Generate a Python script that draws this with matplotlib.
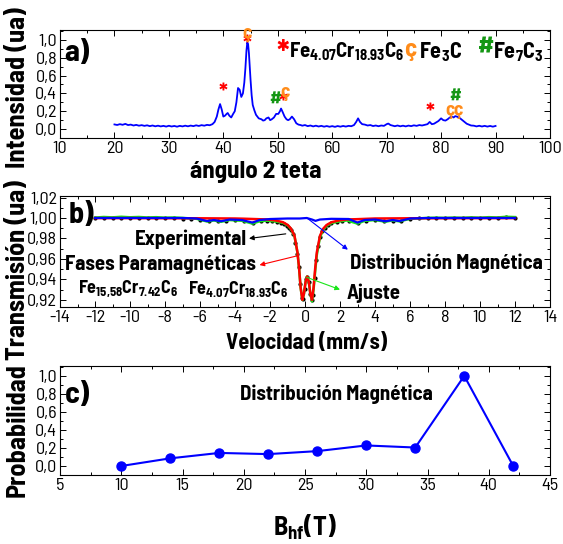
import matplotlib
matplotlib.use('Agg')
import matplotlib.pyplot as plt
from matplotlib import font_manager
from matplotlib.ticker import MultipleLocator, FuncFormatter

# ---------------- data ----------------
# a) XRD pattern
xrd_angle = [20.0, 20.5, 21.0, 21.5, 22.0, 22.5, 23.0, 23.5, 24.0, 24.5, 25.0, 25.5, 26.0, 26.5,
             27.0, 27.5, 28.0, 28.5, 29.0, 29.5, 30.0, 30.5, 31.0, 31.5, 32.0, 32.5, 33.0, 33.5,
             34.0, 34.5, 35.0, 35.5, 36.0, 36.5, 37.0, 37.5, 38.0,
             38.4, 38.8, 39.1, 39.4, 39.7, 40.0, 40.3, 40.6, 40.8, 41.1, 41.45, 41.8, 42.1, 42.4,
             42.7, 43.0, 43.3, 43.6, 43.85, 44.05, 44.25, 44.4, 44.55, 44.7, 44.85, 45.0, 45.2,
             45.4, 45.7, 46.0, 46.5, 47.0, 47.3, 47.6, 47.9, 48.3, 48.6, 48.9, 49.3, 49.7, 50.1,
             50.4, 50.6, 50.9, 51.25, 51.6, 51.9, 52.2, 52.6, 53.0, 53.4, 53.8, 54.2,
             54.5, 55.0, 55.5, 56.0, 56.5, 57.0, 57.5, 58.0, 58.5, 59.0, 59.5, 60.0, 60.5, 61.0,
             61.5, 62.0, 62.5, 63.0, 63.5,
             64.0, 64.4, 64.75, 65.1, 65.5, 66.0, 66.5, 67.0, 67.5, 68.0, 68.5, 69.0, 69.5, 70.0,
             70.3, 70.7, 71.0, 71.5, 72.0, 72.5, 73.0, 73.5, 74.0, 74.5, 75.0, 75.5, 76.0, 76.5,
             77.0, 77.5, 77.9, 78.3, 78.7, 79.1, 79.5, 80.0, 80.4, 80.8, 81.2, 81.6, 82.0, 82.3,
             82.6, 82.9, 83.2, 83.5, 83.9, 84.3, 84.7, 85.1, 85.5, 86.0, 86.5, 87.0, 87.5, 88.0,
             88.5, 89.0, 89.5, 90.0]
xrd_int = [0.052, 0.046, 0.055, 0.048, 0.058, 0.045, 0.050, 0.040, 0.047, 0.038, 0.044, 0.036, 0.042, 0.033,
           0.040, 0.031, 0.038, 0.030, 0.036, 0.028, 0.037, 0.029, 0.035, 0.027, 0.036, 0.030, 0.038, 0.031,
           0.039, 0.033, 0.042, 0.035, 0.044, 0.038, 0.047, 0.043, 0.055,
           0.080, 0.14, 0.22, 0.28, 0.22, 0.14, 0.15, 0.17, 0.18, 0.15, 0.13, 0.17, 0.20, 0.30,
           0.46, 0.44, 0.36, 0.40, 0.52, 0.68, 0.88, 0.97, 0.95, 0.85, 0.70, 0.55, 0.38,
           0.27, 0.21, 0.16, 0.12, 0.11, 0.095, 0.10, 0.12, 0.13, 0.10, 0.11, 0.13, 0.17, 0.17,
           0.20, 0.23, 0.19, 0.14, 0.11, 0.10, 0.11, 0.14, 0.11, 0.065, 0.05, 0.045,
           0.038, 0.045, 0.033, 0.040, 0.030, 0.038, 0.029, 0.036, 0.027, 0.034, 0.026, 0.033, 0.025, 0.034,
           0.027, 0.035, 0.028, 0.036, 0.032,
           0.045, 0.08, 0.12, 0.08, 0.055, 0.050, 0.040, 0.045, 0.034, 0.040, 0.032, 0.040, 0.036, 0.055,
           0.062, 0.045, 0.040, 0.032, 0.040, 0.031, 0.038, 0.030, 0.039, 0.033, 0.042, 0.036, 0.045, 0.040,
           0.048, 0.055, 0.080, 0.055, 0.060, 0.075, 0.090, 0.12, 0.10, 0.095, 0.11, 0.13, 0.14, 0.13,
           0.145, 0.14, 0.13, 0.12, 0.10, 0.08, 0.06, 0.05, 0.040, 0.038, 0.030, 0.037, 0.029, 0.036,
           0.028, 0.035, 0.027, 0.035]

# phase markers on the XRD pattern: (angle, height)
star_marks = [(39.9, 0.40), (44.4, 0.94), (50.9, 0.29), (78.0, 0.17)]
cedilla_marks = [(44.4, 1.07), (51.4, 0.41), (81.6, 0.21), (83.2, 0.21)]
hash_marks = [(49.6, 0.32), (82.6, 0.36)]

# b) Mossbauer spectrum
vel_exp = [-12.0, -11.5, -11.0, -10.5, -10.0, -9.5, -9.0, -8.5, -8.0, -7.5, -7.0, -6.5, -6.0, -5.5,
           -5.0, -4.5, -4.0, -3.5, -3.0, -2.5, -2.2, -1.9, -1.6, -1.4, -1.2, -1.05, -0.9, -0.78,
           -0.66, -0.55, -0.45, -0.36, -0.27, -0.18, -0.1, -0.02, 0.06, 0.14, 0.22, 0.3, 0.38,
           0.46, 0.55, 0.64, 0.74, 0.85, 0.98, 1.12, 1.3, 1.5, 1.8, 2.1, 2.5, 3.0, 3.5, 4.0, 4.5,
           5.0, 5.5, 6.0, 6.5, 7.0, 7.5, 8.0, 8.5, 9.0, 9.5, 10.0, 10.5, 11.0, 11.5, 12.0]
trans_exp = [0.9998, 1.0003, 0.9999, 1.0004, 0.9998, 1.0002, 0.9997, 1.0001, 0.9996, 1.0000, 0.9995,
             0.9992, 0.9985, 0.9968, 0.9972, 0.9975, 0.9978, 0.9970, 0.9948, 0.9970, 0.9972, 0.9966,
             0.9962, 0.9953, 0.9940, 0.9925, 0.9905, 0.9885, 0.9840, 0.9760, 0.9650, 0.9520, 0.9350,
             0.9220, 0.9210, 0.9310, 0.9405, 0.9420, 0.9370, 0.9260, 0.9195, 0.9250, 0.9410, 0.9590,
             0.9730, 0.9810, 0.9870, 0.9905, 0.9935, 0.9950, 0.9962, 0.9970, 0.9972, 0.9947, 0.9975,
             0.9979, 0.9966, 0.9975, 0.9968, 0.9990, 0.9996, 0.9999, 1.0001, 0.9998, 1.0002, 0.9999,
             1.0003, 1.0000, 1.0004, 1.0001, 1.0006, 1.0003]

vel_fit = [-12.0, -11.5, -11.0, -10.5, -10.0, -9.5, -9.0, -8.5, -8.0, -7.5, -7.0, -6.5, -6.2, -5.6,
           -5.2, -4.8, -4.3, -3.6, -3.0, -2.6, -2.2, -1.7, -1.25, -0.98, -0.8, -0.6, -0.43, -0.34,
           -0.25, -0.15, -0.06, 0.035, 0.125, 0.215, 0.305, 0.40, 0.49, 0.585, 0.675, 0.855, 1.045,
           1.23, 1.5, 1.96, 2.4, 3.0, 3.4, 4.0, 4.6, 5.0, 5.4, 6.0, 7.0, 7.5, 8.0, 8.5, 9.0, 9.5,
           10.0, 10.5, 11.0, 11.5, 12.0]
trans_fit = [1.0004, 1.0010, 1.0006, 1.0012, 1.0007, 1.0010, 1.0005, 1.0008, 1.0003, 1.0005, 1.0001,
             0.9995, 0.9992, 0.9966, 0.9976, 0.9963, 0.9980, 0.9973, 0.9945, 0.9968, 0.9974, 0.9967,
             0.9952, 0.9926, 0.9891, 0.9821, 0.9660, 0.9510, 0.9318, 0.9198, 0.9259, 0.9378, 0.9428,
             0.9379, 0.9260, 0.9185, 0.9300, 0.9485, 0.9639, 0.9811, 0.9886, 0.9923, 0.9950, 0.9967,
             0.9976, 0.9945, 0.9972, 0.9980, 0.9964, 0.9976, 0.9967, 0.9992, 1.0001, 1.0003, 1.0001,
             1.0004, 1.0002, 1.0006, 1.0003, 1.0008, 1.0005, 1.0012, 1.0009]

vel_para = [-12.0, -10.0, -8.0, -6.0, -4.0, -3.5, -2.6, -2.2, -1.7, -1.25, -0.98, -0.8, -0.6, -0.43,
            -0.34, -0.25, -0.15, -0.06, 0.035, 0.125, 0.215, 0.305, 0.40, 0.49, 0.585, 0.675, 0.855,
            1.045, 1.23, 1.5, 1.96, 2.4, 2.9, 4.0, 6.0, 8.0, 10.0, 12.0]
trans_para = [0.9999, 0.9999, 0.9998, 0.9997, 0.9995, 0.9993, 0.9988, 0.9986, 0.9977, 0.9958, 0.9931,
              0.9896, 0.9826, 0.9664, 0.9513, 0.9320, 0.9200, 0.9260, 0.9379, 0.9428, 0.9379, 0.9260,
              0.9200, 0.9320, 0.9513, 0.9664, 0.9826, 0.9896, 0.9931, 0.9958, 0.9977, 0.9986, 0.9988,
              0.9995, 0.9997, 0.9998, 0.9999, 0.9999]

vel_mag = [-12.0, -7.0, -6.2, -5.6, -5.2, -4.8, -4.3, -3.6, -3.0, -2.6, -2.0, -1.0, -0.3, 0.1, 0.4,
           0.6, 0.85, 1.5, 2.5, 3.0, 3.4, 4.0, 4.6, 5.0, 5.4, 6.0, 7.0, 12.0]
trans_mag = [1.0, 1.0, 0.9995, 0.9970, 0.9980, 0.9968, 0.9985, 0.9980, 0.9955, 0.9980, 0.9990, 0.9995,
             0.9995, 1.0, 0.9985, 0.9972, 0.9985, 0.9992, 0.9990, 0.9955, 0.9980, 0.9985, 0.9968,
             0.9980, 0.9970, 0.9995, 1.0, 1.0]

# c) hyperfine field distribution
bhf = [10, 14, 18, 22, 26, 30, 34, 38, 42]
prob = [0.0, 0.085, 0.145, 0.132, 0.165, 0.228, 0.205, 1.0, 0.0]

# ---------------- style ----------------
names = {f.name for f in font_manager.fontManager.ttflist}
FONT = 'Liberation Sans'
for cand in ('Liberation Sans Narrow', 'Barlow Semi Condensed', 'Asap Condensed'):
    if cand in names:
        FONT = cand
        break
plt.rcParams['font.family'] = [FONT, 'DejaVu Sans']
plt.rcParams['axes.unicode_minus'] = False
plt.rcParams['mathtext.fontset'] = 'custom'
plt.rcParams['mathtext.rm'] = FONT + ':bold'
plt.rcParams['mathtext.bf'] = FONT + ':bold'
plt.rcParams['mathtext.it'] = FONT + ':bold'

W, H = 563, 544
fig = plt.figure(figsize=(W / 100, H / 100), dpi=100)


def box(top, bottom, left=60, right=550):
    return [left / W, 1 - bottom / H, (right - left) / W, (bottom - top) / H]


def style(ax, xmaj, xmin, ymaj, ymin, yfmt):
    ax.xaxis.set_major_locator(MultipleLocator(xmaj))
    ax.xaxis.set_minor_locator(MultipleLocator(xmin))
    ax.yaxis.set_major_locator(MultipleLocator(ymaj))
    ax.yaxis.set_minor_locator(MultipleLocator(ymin))
    ax.yaxis.set_major_formatter(FuncFormatter(lambda v, p: (yfmt % v).replace('.', ',')))
    ax.xaxis.set_major_formatter(FuncFormatter(lambda v, p: '%d' % round(v)))
    ax.tick_params(which='both', direction='in', top=True, right=True, width=0.7,
                   labelsize=13, pad=2)
    ax.tick_params(which='major', length=4)
    ax.tick_params(which='minor', length=2)
    for s in ax.spines.values():
        s.set_linewidth(0.8)


BLUE = '#0000ff'
RED = '#ff0000'
GREEN = '#19e619'
ORANGE = '#ff8c1a'
DKGREEN = '#149614'
BOLD = 'bold'

# ---------------- a) ----------------
axa = fig.add_axes(box(30, 138))
axa.plot(xrd_angle, xrd_int, color=BLUE, lw=1.3)
axa.set_xlim(10, 100)
axa.set_ylim(-0.10, 1.11)
style(axa, 10, 5, 0.2, 0.1, '%.1f')
for x, y in star_marks:
    axa.text(x, y, '*', color=RED, fontsize=17, fontweight=BOLD, ha='center', va='center')
for x, y in cedilla_marks:
    axa.text(x, y, 'ç', color=ORANGE, fontsize=14, fontweight=BOLD, ha='center', va='center')
for x, y in hash_marks:
    axa.text(x, y, '#', color=DKGREEN, fontsize=13, fontweight=BOLD, ha='center', va='center')
axa.text(10.8, 0.85, 'a)', fontsize=22, fontweight=BOLD, ha='left', va='center')
axa.text(50.9, 0.82, '*', color=RED, fontsize=24, fontweight=BOLD, ha='center', va='center')
axa.text(52.0, 0.86, r'Fe$_{\mathrm{4.07}}$Cr$_{\mathrm{18.93}}$C$_{\mathrm{6}}$',
         fontsize=15, fontweight=BOLD, ha='left', va='center')
axa.text(74.3, 0.89, 'ç', color=ORANGE, fontsize=18, fontweight=BOLD, ha='center', va='center')
axa.text(76.0, 0.86, r'Fe$_{\mathrm{3}}$C', fontsize=16, fontweight=BOLD, ha='left', va='center')
axa.text(88.3, 0.91, '#', color=DKGREEN, fontsize=18, fontweight=BOLD, ha='center', va='center')
axa.text(89.6, 0.86, r'Fe$_{\mathrm{7}}$C$_{\mathrm{3}}$', fontsize=16, fontweight=BOLD,
         ha='left', va='center')

# ---------------- b) ----------------
axb = fig.add_axes(box(196, 307))
axb.plot(vel_exp, trans_exp, 'o', color='black', ms=2.0, zorder=2)
axb.plot(vel_fit, trans_fit, color=GREEN, lw=1.8, zorder=3)
axb.plot(vel_para, trans_para, color=RED, lw=1.8, zorder=4)
axb.plot(vel_mag, trans_mag, color=BLUE, lw=1.6, zorder=5)
axb.set_xlim(-14, 14)
axb.set_ylim(0.913, 1.0215)
style(axb, 2, 1, 0.02, 0.01, '%.2f')
axb.text(-13.5, 1.002, 'b)', fontsize=22, fontweight=BOLD, ha='left', va='center')
tkw = dict(fontsize=15, fontweight=BOLD, va='center')
axb.text(-3.3, 0.979, 'Experimental', ha='right', **tkw)
axb.text(-2.8, 0.955, 'Fases Paramagnéticas', ha='right', **tkw)
skw = dict(fontsize=13, fontweight=BOLD, va='center')
axb.text(-12.95, 0.931, r'Fe$_{\mathrm{15{,}58}}$Cr$_{\mathrm{7.42}}$C$_{\mathrm{6}}$', ha='left', **skw)
axb.text(-6.7, 0.931, r'Fe$_{\mathrm{4.07}}$Cr$_{\mathrm{18.93}}$C$_{\mathrm{6}}$', ha='left', **skw)
axb.text(2.6, 0.956, 'Distribución Magnética', ha='left', **tkw)
axb.text(2.4, 0.9265, 'Ajuste', ha='left', **tkw)


def arrow(ax, tail, head, color):
    ax.annotate('', xy=head, xytext=tail,
                arrowprops=dict(arrowstyle='-|>', color=color, lw=0.8,
                                mutation_scale=7, shrinkA=0, shrinkB=0), zorder=6)


arrow(axb, (-1.1, 0.9845), (-3.2, 0.980), 'black')
arrow(axb, (-0.45, 0.963), (-2.6, 0.954), RED)
arrow(axb, (0.15, 0.9995), (2.45, 0.969), BLUE)
arrow(axb, (0.1, 0.942), (2.0, 0.930), GREEN)

# ---------------- c) ----------------
axc = fig.add_axes(box(366, 475))
axc.plot(bhf, prob, '-o', color=BLUE, lw=1.5, ms=6.5)
axc.set_xlim(5, 45)
axc.set_ylim(-0.10, 1.11)
style(axc, 5, 2.5, 0.2, 0.1, '%.1f')
axc.text(5.4, 0.78, 'c)', fontsize=22, fontweight=BOLD, ha='left', va='center')
axc.text(27.6, 0.80, 'Distribución Magnética', fontsize=15, fontweight=BOLD,
         ha='center', va='center')

# ---------------- axis titles ----------------
lkw = dict(fontsize=19, fontweight=BOLD, rotation=90, ha='center', va='center')
fig.text(18 / W, 1 - 88 / H, 'Intensidad (ua)', **lkw)
fig.text(18 / W, 1 - 270 / H, 'Transmisión (ua)', **lkw)
fig.text(18 / W, 1 - 430 / H, 'Probabilidad', **lkw)
fig.text(256 / W, 1 - 172 / H, 'ángulo 2 teta', fontsize=18, fontweight=BOLD,
         ha='center', va='center')
fig.text(306 / W, 1 - 343 / H, 'Velocidad (mm/s)', fontsize=16, fontweight=BOLD,
         ha='center', va='center')
fig.text(305 / W, 1 - 527 / H, r'B$_{\mathrm{hf}}$(T)', fontsize=19, fontweight=BOLD,
         ha='center', va='center')

fig.savefig('out.png', dpi=100)
